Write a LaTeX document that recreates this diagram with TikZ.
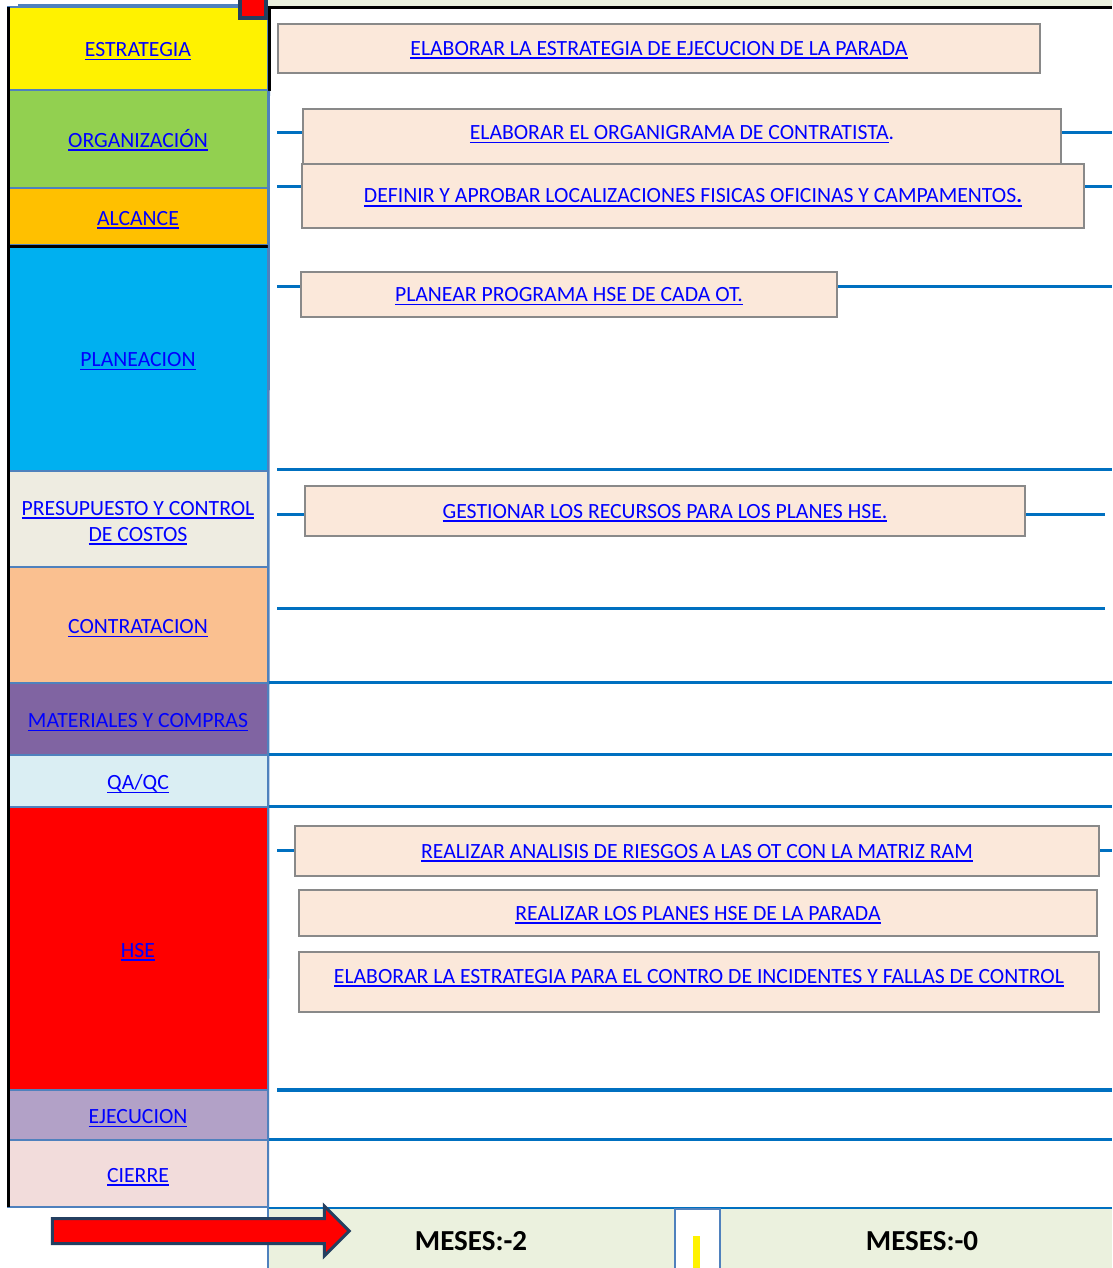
\documentclass[tikz,border=0pt]{standalone}
\usepackage{fontspec}
\setmainfont{Carlito}
\usetikzlibrary{shapes.arrows}

\definecolor{orgcol}{HTML}{92D050}
\definecolor{alccol}{HTML}{FFC000}
\definecolor{plancol}{HTML}{00B0F0}
\definecolor{prescol}{HTML}{EEECE1}
\definecolor{contcol}{HTML}{FAC090}
\definecolor{matcol}{HTML}{8064A2}
\definecolor{qacol}{HTML}{DAEEF3}
\definecolor{ejecol}{HTML}{B2A1C7}
\definecolor{ciecol}{HTML}{F2DCDB}
\definecolor{taskfill}{HTML}{FBE8DA}
\definecolor{taskline}{HTML}{898989}
\definecolor{lanecol}{HTML}{0070C0}
\definecolor{rowline}{HTML}{4F81BD}
\definecolor{navy}{HTML}{243F60}
\definecolor{mesfill}{HTML}{EBF1DE}
\definecolor{linkblue}{HTML}{0000FF}

\newsavebox\lnkbox
\newcommand\lnk[1]{\leavevmode\sbox\lnkbox{#1}\usebox\lnkbox\kern-\wd\lnkbox\rule[-3.5pt]{\wd\lnkbox}{1.5pt}}

\begin{document}
\begin{tikzpicture}[x=1pt, y=-1pt,
  phase/.style={draw=rowline, line width=2pt, minimum width=260pt, inner sep=0pt,
    align=center, text=linkblue, text height=17pt, text depth=0pt,
    font=\fontsize{21.7}{26}\selectfont},
  task/.style={draw=taskline, fill=taskfill, line width=2pt, inner sep=0pt,
    text=linkblue, text height=14pt, text depth=0pt, font=\fontsize{21.7}{26}\selectfont},
  lane/.style={draw=lanecol, line width=3pt},
  mes/.style={inner sep=0pt, font=\fontsize{29}{34}\selectfont\bfseries}]

  \useasboundingbox (0,0) rectangle (1112,1268);
  \fill[mesfill] (268,0) rectangle (1112,7);

  % fases
  \foreach \nm/\yc/\h/\col/\txt in {
    estrat/48.5/83/yellow/ESTRATEGIA,
    organ/139/98/orgcol/ORGANIZACIÓN,
    alcan/216.5/57/alccol/ALCANCE,
    plane/358/226/plancol/PLANEACION,
    contra/625/116/contcol/CONTRATACION,
    mater/719/72/matcol/MATERIALES Y COMPRAS,
    qaqc/781/52/qacol/{QA/QC},
    hse/948.5/283/red/HSE,
    ejec/1115/50/ejecol/EJECUCION,
    cierre/1173.5/67/ciecol/CIERRE}
    \node[phase, fill=\col, minimum height=\h pt] (\nm) at (138,\yc) {\lnk{\txt}};
  \node[phase, fill=prescol, minimum height=96pt, text height=, text depth=] (presu) at (138,519)
    {\rule{0pt}{22pt}\lnk{PRESUPUESTO Y CONTROL}\\[0pt]\lnk{DE COSTOS}};

  \draw[black, line width=3pt] (8.5,7) -- (8.5,1207);
  \draw[black, line width=3pt] (estrat.north east) -- (estrat.south east);
  \draw[black, line width=3pt] (alcan.south west) -- (alcan.south east);
  \draw[rowline, line width=2pt] (18,5) -- (238,5);
  \draw[rowline, line width=2pt] (estrat.south east) -- (268,1268);
  \draw[black, line width=3pt] (268,8) -- (1112,8);
  \draw[navy, fill=red, line width=4pt] (240,-3) rectangle (266,18.5);

  % tareas
  \node[task, minimum width=762pt, minimum height=49pt] (tEstr) at (659,48.5)
    {\lnk{ELABORAR LA ESTRATEGIA DE EJECUCION DE LA PARADA}};
  \node[task, minimum width=758pt, minimum height=55pt, text depth=7pt] (tOrgan) at (682,136.5)
    {\lnk{ELABORAR EL ORGANIGRAMA DE CONTRATISTA}.};
  \node[task, minimum width=782pt, minimum height=64pt] (tLocal) at (693,196)
    {\lnk{DEFINIR Y APROBAR LOCALIZACIONES FISICAS OFICINAS Y CAMPAMENTOS\textbf{.}}};
  \node[task, minimum width=536pt, minimum height=45pt] (tPlan) at (569,294.5)
    {\lnk{PLANEAR PROGRAMA HSE DE CADA OT.}};
  \node[task, minimum width=720pt, minimum height=50pt] (tRecur) at (665,511)
    {\lnk{GESTIONAR LOS RECURSOS PARA LOS PLANES HSE.}};
  \node[task, minimum width=804pt, minimum height=50pt] (tRiesgo) at (697,851)
    {\lnk{REALIZAR ANALISIS DE RIESGOS A LAS OT CON LA MATRIZ RAM}};
  \node[task, minimum width=798pt, minimum height=46pt] (tHse) at (698,913)
    {\lnk{REALIZAR LOS PLANES HSE DE LA PARADA}};
  \node[task, minimum width=800pt, minimum height=60pt, text depth=12pt] (tIncid) at (699,982)
    {\lnk{ELABORAR LA ESTRATEGIA PARA EL CONTRO DE INCIDENTES Y FALLAS DE CONTROL}};

  % carriles
  \coordinate (rb) at (1112,0);
  \coordinate (rc) at (1105,0);
  \coordinate (l1) at (277,133);
  \coordinate (l2) at (277,187);
  \coordinate (l3) at (277,286);
  \coordinate (l4) at (277,514);
  \coordinate (l5) at (277,850);
  \draw[lane] (l1) -- (l1 -| tOrgan.west) (l1 -| tOrgan.east) -- (l1 -| rb);
  \draw[lane] (l2) -- (l2 -| tLocal.west) (l2 -| tLocal.east) -- (l2 -| rb);
  \draw[lane] (l3) -- (l3 -| tPlan.west) (l3 -| tPlan.east) -- (l3 -| rb);
  \draw[lane] (l4) -- (l4 -| tRecur.west) (l4 -| tRecur.east) -- (l4 -| rc);
  \draw[lane] (l5) -- (l5 -| tRiesgo.west) (l5 -| tRiesgo.east) -- (l5 -| rb);
  \draw[lane] (277,469) -- (rb |- 0,469);
  \draw[lane] (277,608) -- (rc |- 0,608);
  \draw[lane] (mater.north east) -- (rb |- mater.north);
  \draw[lane] (qaqc.north east) -- (rb |- qaqc.north);
  \draw[lane] (hse.north east) -- (rb |- hse.north);
  \draw[lane, line width=4pt] (277,1090) -- (rb |- 0,1090);
  \draw[lane] (cierre.north east) -- (rb |- cierre.north);
  \draw[lane] (cierre.south east) -- (rb |- cierre.south);

  % meses
  \fill[mesfill] (269,1208.5) rectangle (1112,1268);
  \node[mes] (mes2) at (471,1241) {MESES:-2};
  \node[mes] (mes0) at (922,1241) {MESES:-0};
  \node[draw=rowline, fill=white, line width=2pt, minimum width=45pt, minimum height=62pt,
    inner sep=0pt] (hoy) at (697.5,1240) {};
  \fill[yellow] (693,1236) rectangle (700,1268);
  \node[single arrow, fill=red, draw=navy, line width=3pt, minimum height=297pt,
    minimum width=50pt, text height=11pt, text depth=11pt, single arrow head extend=12.5pt,
    inner sep=0pt] (flecha) at (194.5,1231) {};
\end{tikzpicture}
\end{document}
